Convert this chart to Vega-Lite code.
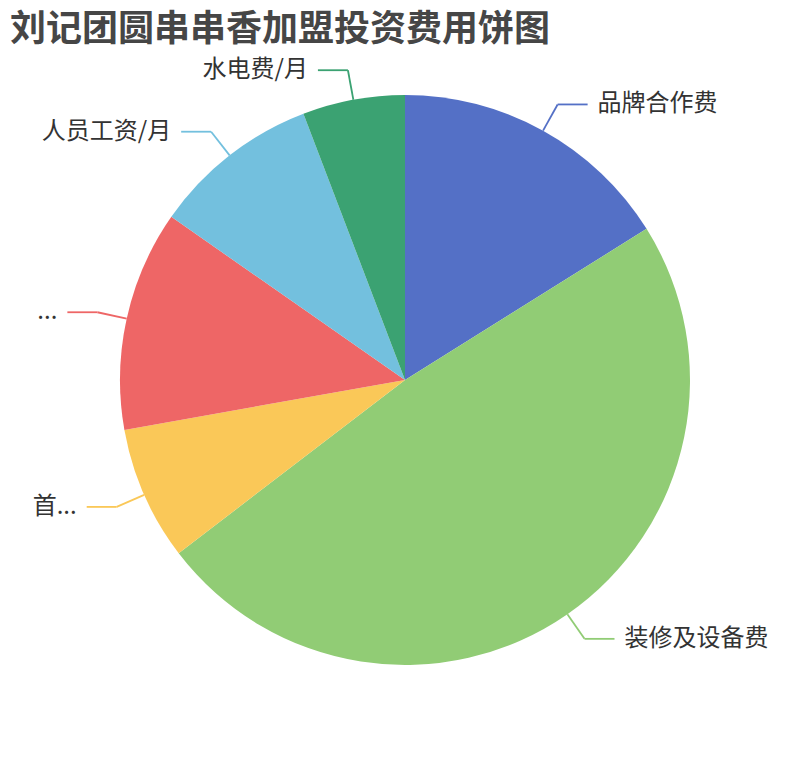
{
  "$schema": "https://vega.github.io/schema/vega-lite/v6.json",
  "width": 810,
  "height": 760,
  "padding": 0,
  "autosize": {"type": "none"},
  "background": "white",
  "view": {"stroke": null},
  "title": {
    "text": "刘记团圆串串香加盟投资费用饼图",
    "anchor": "start",
    "font": "Noto Sans CJK SC",
    "fontSize": 36,
    "fontWeight": "bold",
    "color": "#464646",
    "offset": -49,
    "dx": 10
  },
  "data": {
    "values": [
      {"id": 1, "name": "品牌合作费", "value": 161},
      {"id": 2, "name": "装修及设备费", "value": 485},
      {"id": 3, "name": "首...", "value": 76},
      {"id": 4, "name": "...", "value": 125},
      {"id": 5, "name": "人员工资/月", "value": 95},
      {"id": 6, "name": "水电费/月", "value": 58}
    ]
  },
  "transform": [
    {"joinaggregate": [{"op": "sum", "field": "value", "as": "total"}]},
    {"window": [{"op": "sum", "field": "value", "as": "cum"}], "sort": [{"field": "id"}], "frame": [null, 0]},
    {"calculate": "2 * PI * (datum.cum - datum.value / 2) / datum.total", "as": "mid"},
    {"calculate": "sin(datum.mid) >= 0 ? 1 : -1", "as": "side"},
    {"calculate": "285 * sin(datum.mid)", "as": "x0"},
    {"calculate": "285 * cos(datum.mid)", "as": "y0"},
    {"calculate": "315 * sin(datum.mid)", "as": "x1"},
    {"calculate": "315 * cos(datum.mid)", "as": "y1"},
    {"calculate": "datum.x1 + 30 * datum.side", "as": "x2"},
    {"calculate": "datum.x2 + 10 * datum.side", "as": "tx"}
  ],
  "encoding": {
    "color": {
      "field": "name",
      "type": "nominal",
      "scale": {
        "domain": ["品牌合作费", "装修及设备费", "首...", "...", "人员工资/月", "水电费/月"],
        "range": ["#5470c6", "#91cc75", "#fac858", "#ee6666", "#73c0de", "#3ba272"]
      },
      "legend": null
    }
  },
  "layer": [
    {
      "mark": {"type": "arc", "outerRadius": 285},
      "encoding": {
        "theta": {"field": "value", "type": "quantitative", "stack": true},
        "order": {"field": "id", "type": "quantitative"}
      }
    },
    {
      "mark": {"type": "rule", "strokeWidth": 1.8},
      "encoding": {
        "x": {"field": "x0", "type": "quantitative", "scale": {"domain": [-405, 405], "nice": false, "zero": false}, "axis": null},
        "y": {"field": "y0", "type": "quantitative", "scale": {"domain": [-380, 380], "nice": false, "zero": false}, "axis": null},
        "x2": {"field": "x1"},
        "y2": {"field": "y1"}
      }
    },
    {
      "mark": {"type": "rule", "strokeWidth": 1.8},
      "encoding": {
        "x": {"field": "x1", "type": "quantitative"},
        "y": {"field": "y1", "type": "quantitative"},
        "x2": {"field": "x2"}
      }
    },
    {
      "transform": [{"filter": "datum.side > 0"}],
      "mark": {"type": "text", "align": "left", "baseline": "middle", "font": "Noto Sans CJK SC", "fontSize": 24},
      "encoding": {
        "x": {"field": "tx", "type": "quantitative"},
        "y": {"field": "y1", "type": "quantitative"},
        "text": {"field": "name"},
        "color": {"value": "#333333"}
      }
    },
    {
      "transform": [{"filter": "datum.side < 0"}],
      "mark": {"type": "text", "align": "right", "baseline": "middle", "font": "Noto Sans CJK SC", "fontSize": 24},
      "encoding": {
        "x": {"field": "tx", "type": "quantitative"},
        "y": {"field": "y1", "type": "quantitative"},
        "text": {"field": "name"},
        "color": {"value": "#333333"}
      }
    }
  ]
}
